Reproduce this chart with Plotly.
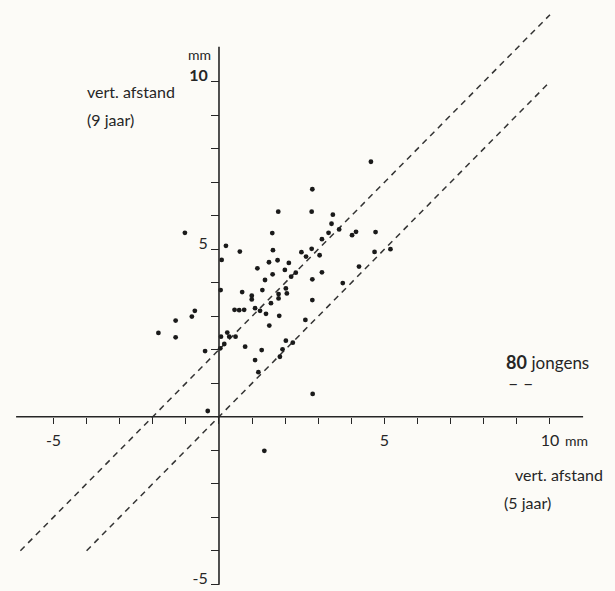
import plotly.graph_objects as go

# vertical distance at 5 years (x) and at 9 years (y), mm — 80 boys
afstand_5jaar = [
    -1.03, 0.21, 0.63, 0.08, 1.79, 1.61, 1.63, 1.51, 1.77, 1.16, 1.62, 1.39, 0.05, 0.70, 1.31,
    4.59, 2.82, 2.80, 3.44, 3.40, 3.63, 3.31, 4.02, 4.14, 4.73, 3.11, 2.80, 2.49, 2.63, 3.04,
    2.11, 1.99, 2.32, 2.18, 3.11, 2.82, 4.70, 5.18, 4.23, 3.74, 2.02, 2.05,
    0.99, 0.99, 1.80, 1.80, 1.57, 1.09, 1.24, 1.42, 1.82, 0.47, 0.61, 0.76, -0.73, -0.82,
    -1.31, -1.31, -1.83, 1.52, 0.06, 0.25, 0.31, 0.50, 0.16, 0.79, -0.42, 0.04, 1.29, 1.09,
    1.19, 1.92, 1.84, -0.34,
    2.82, 2.61, 2.02, 2.23, 2.83,
    1.37,
]
afstand_9jaar = [
    5.49, 5.10, 4.93, 4.68, 6.12, 5.48, 4.97, 4.61, 4.67, 4.43, 4.25, 4.08, 3.78, 3.72, 3.78,
    7.61, 6.79, 6.12, 6.03, 5.76, 5.59, 5.49, 5.42, 5.52, 5.51, 5.30, 5.01, 4.91, 4.78, 4.82,
    4.59, 4.38, 4.30, 4.18, 4.31, 4.10, 4.92, 5.00, 4.48, 3.99, 3.83, 3.68,
    3.61, 3.50, 3.66, 3.53, 3.39, 3.24, 3.16, 3.07, 3.01, 3.19, 3.18, 3.19, 3.16, 2.99,
    2.87, 2.37, 2.50, 2.72, 2.39, 2.51, 2.39, 2.39, 2.17, 2.09, 1.96, 2.04, 1.99, 1.69,
    1.33, 2.01, 1.79, 0.17,
    3.48, 2.89, 2.27, 2.21, 0.68,
    -1.02,
]

# dashed reference lines
lijn_onder_x = [-4, 10]
lijn_onder_y = [-4, 10]
lijn_boven_x = [-6, 10]
lijn_boven_y = [-4, 12]

# ticks
x_tickvals = list(range(-5, 11))
x_ticklabels = {-5: "-5", 5: "5", 10: "10"}
y_tickvals = list(range(-5, 11))
y_ticklabels = {-5: "-5", 5: "5", 10: "<b>10</b>"}

# axis extents (data units)
x_axis_extent = [-6.13, 11.0]
y_axis_extent = [-5.02, 11.04]

X_RANGE = [-6.616, 11.964]
Y_RANGE = [-5.203, 12.439]

INK = "#262626"
FONT = "Lato"

fig = go.Figure()

fig.add_trace(go.Scatter(
    x=lijn_onder_x, y=lijn_onder_y, mode="lines",
    line=dict(color="#333333", width=1.5, dash="6px,5px"), hoverinfo="skip",
))
fig.add_trace(go.Scatter(
    x=lijn_boven_x, y=lijn_boven_y, mode="lines",
    line=dict(color="#333333", width=1.5, dash="6px,5px"), hoverinfo="skip",
))
fig.add_trace(go.Scatter(
    x=afstand_5jaar, y=afstand_9jaar, mode="markers",
    marker=dict(size=4.8, color="#1a1a1a"),
))

x_pos = (0 - Y_RANGE[0]) / (Y_RANGE[1] - Y_RANGE[0])
y_pos = (0 - X_RANGE[0]) / (X_RANGE[1] - X_RANGE[0])

fig.update_layout(
    width=615, height=591,
    margin=dict(l=0, r=0, t=0, b=0),
    paper_bgcolor="#fcfbf7", plot_bgcolor="#fcfbf7",
    showlegend=False,
    font=dict(family=FONT, color=INK),
    xaxis=dict(
        range=X_RANGE, showgrid=False, zeroline=False, showline=False,
        anchor="free", position=x_pos, side="bottom",
        tickmode="array", tickvals=x_tickvals,
        ticktext=[x_ticklabels.get(v, "") for v in x_tickvals],
        ticks="outside", ticklen=6, tickwidth=1.4, tickcolor=INK,
        tickfont=dict(size=16, color=INK, family=FONT),
        ticklabelstandoff=3, automargin=False,
    ),
    yaxis=dict(
        range=Y_RANGE, showgrid=False, zeroline=False, showline=False,
        anchor="free", position=y_pos, side="left",
        tickmode="array", tickvals=y_tickvals,
        ticktext=[y_ticklabels.get(v, "") for v in y_tickvals],
        ticks="outside", ticklen=8, tickwidth=1.4, tickcolor=INK,
        tickfont=dict(size=16, color=INK, family=FONT),
        ticklabelshift=-6, automargin=False,
    ),
    shapes=[
        dict(type="line", xref="x", yref="y", x0=x_axis_extent[0], x1=x_axis_extent[1],
             y0=0, y1=0, line=dict(color=INK, width=1.6)),
        dict(type="line", xref="x", yref="y", x0=0, x1=0,
             y0=y_axis_extent[0], y1=y_axis_extent[1], line=dict(color=INK, width=1.6)),
    ],
)

ann = [
    dict(text="vert. afstand", x=-4.05, y=9.70, xanchor="left", size=16),
    dict(text="(9 jaar)", x=-4.05, y=8.86, xanchor="left", size=16),
    dict(text="mm", x=-0.59, y=10.82, xanchor="center", size=14),
    dict(text="mm", x=10.38, y=-0.71, xanchor="left", size=14),
    dict(text="<b>80</b> <span style='font-size:17px'>jongens</span>", x=8.62, y=1.63, xanchor="left", size=18),
    dict(text="– –", x=8.68, y=1.0, xanchor="left", size=18),
    dict(text="vert. afstand", x=8.87, y=-1.74, xanchor="left", size=16),
    dict(text="(5 jaar)", x=8.54, y=-2.57, xanchor="left", size=16),
]
for a in ann:
    fig.add_annotation(
        text=a["text"], x=a["x"], y=a["y"], xref="x", yref="y",
        xanchor=a["xanchor"], yanchor="middle", showarrow=False,
        font=dict(size=a["size"], color=INK, family=FONT),
    )

fig.write_html("out.html")
